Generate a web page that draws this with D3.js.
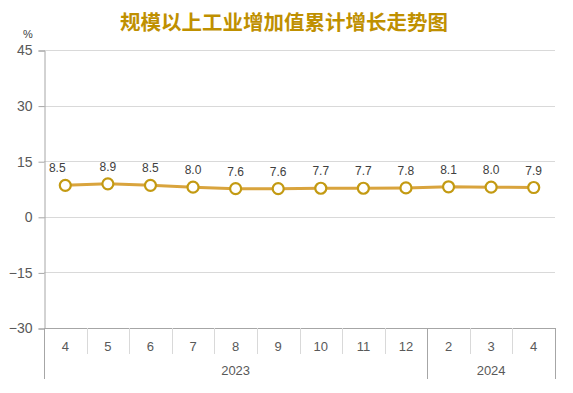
<!DOCTYPE html>
<html>
<head>
<meta charset="utf-8">
<script src="https://cdn.jsdelivr.net/npm/d3@7"></script>
<style>
  body { margin: 0; background: #fff; }
  text { font-family: "Liberation Sans", "DejaVu Sans", sans-serif; }
</style>
</head>
<body>
<svg id="chart" width="573" height="393"></svg>
<script>
// data
var months = ["4", "5", "6", "7", "8", "9", "10", "11", "12", "2", "3", "4"];
var years = [{label: "2023", from: 0, to: 9}, {label: "2024", from: 9, to: 12}];
var values = [8.5, 8.9, 8.5, 8.0, 7.6, 7.6, 7.7, 7.7, 7.8, 8.1, 8.0, 7.9];
var yTicks = [45, 30, 15, 0, -15, -30];
var title = "规模以上工业增加值累计增长走势图";

var svg = d3.select("#chart");
var plotLeft = 44, plotRight = 555, plotTop = 50, plotBottom = 328;

var x = d3.scaleBand().domain(d3.range(months.length)).range([plotLeft, plotRight]);
var y = d3.scaleLinear().domain([-30, 45]).range([plotBottom, plotTop]);

// title
svg.append("text")
  .attr("x", 284).attr("y", 30)
  .attr("text-anchor", "middle")
  .style("font-family", "'Noto Sans CJK SC', sans-serif")
  .style("font-weight", "bold")
  .style("font-size", "20.5px")
  .style("fill", "#BF9000")
  .text(title);

// unit
svg.append("text")
  .attr("x", 28).attr("y", 38)
  .attr("text-anchor", "middle")
  .style("font-size", "11px").style("fill", "#404040")
  .text("%");

// gridlines
svg.append("g").selectAll("line")
  .data(yTicks.filter(function(d) { return d != -30; }))
  .enter().append("line")
  .attr("x1", plotLeft).attr("x2", plotRight)
  .attr("y1", function(d) { return Math.round(y(d)) + 0.5; })
  .attr("y2", function(d) { return Math.round(y(d)) + 0.5; })
  .style("stroke", "#d9d9d9").style("stroke-width", 1);

// y axis
var yAxis = svg.append("g")
  .attr("transform", "translate(" + (plotLeft + 0.5) + ",0.5)")
  .call(d3.axisLeft(y).tickValues(yTicks).tickSize(6).tickPadding(6));
yAxis.select(".domain").style("stroke", "#a6a6a6");
yAxis.selectAll(".tick line").style("stroke", "#a6a6a6");
yAxis.selectAll("text").style("font-size", "14px").style("fill", "#595959")
  .style("font-family", "'Liberation Sans', sans-serif");

// bottom axis line
svg.append("line")
  .attr("x1", plotLeft).attr("x2", plotRight)
  .attr("y1", plotBottom + 0.5).attr("y2", plotBottom + 0.5)
  .style("stroke", "#a6a6a6");

// month separators
svg.append("g").selectAll("line")
  .data(d3.range(1, months.length).filter(function(i) { return i != 9; }))
  .enter().append("line")
  .attr("x1", function(i) { return Math.round(x(i)) + 0.5; })
  .attr("x2", function(i) { return Math.round(x(i)) + 0.5; })
  .attr("y1", plotBottom).attr("y2", plotBottom + 26)
  .style("stroke", "#d9d9d9");

// year separators
svg.append("g").selectAll("line")
  .data([0, 9, 12])
  .enter().append("line")
  .attr("x1", function(i) { return Math.round(i == 12 ? plotRight : x(i)) + 0.5; })
  .attr("x2", function(i) { return Math.round(i == 12 ? plotRight : x(i)) + 0.5; })
  .attr("y1", plotBottom).attr("y2", plotBottom + 51)
  .style("stroke", "#a6a6a6");

// month labels
svg.append("g").selectAll("text")
  .data(months)
  .enter().append("text")
  .attr("x", function(d, i) { return x(i) + x.bandwidth() / 2; })
  .attr("y", plotBottom + 23)
  .attr("text-anchor", "middle")
  .style("font-size", "13px").style("fill", "#595959")
  .text(function(d) { return d; });

// year labels
svg.append("g").selectAll("text")
  .data(years)
  .enter().append("text")
  .attr("x", function(d) { return (x(d.from) + (d.to == 12 ? plotRight : x(d.to))) / 2; })
  .attr("y", plotBottom + 47)
  .attr("text-anchor", "middle")
  .style("font-size", "13px").style("fill", "#595959")
  .text(function(d) { return d.label; });

// line
var line = d3.line()
  .x(function(d, i) { return x(i) + x.bandwidth() / 2; })
  .y(function(d) { return y(d); });

svg.append("path")
  .datum(values)
  .attr("d", line)
  .style("fill", "none")
  .style("stroke", "#D9A43D")
  .style("stroke-width", 3);

// markers
svg.append("g").selectAll("circle")
  .data(values)
  .enter().append("circle")
  .attr("cx", function(d, i) { return x(i) + x.bandwidth() / 2; })
  .attr("cy", function(d) { return y(d); })
  .attr("r", 5.5)
  .style("fill", "#fff")
  .style("stroke", "#C39A12")
  .style("stroke-width", 2.2);

// value labels
svg.append("g").selectAll("text")
  .data(values)
  .enter().append("text")
  .attr("x", function(d, i) { return x(i) + x.bandwidth() / 2 - (i == 0 ? 8 : 0); })
  .attr("y", function(d) { return y(d) - 13; })
  .attr("text-anchor", "middle")
  .style("font-size", "12px").style("fill", "#404040")
  .text(function(d) { return d.toFixed(1); });
</script>
</body>
</html>
